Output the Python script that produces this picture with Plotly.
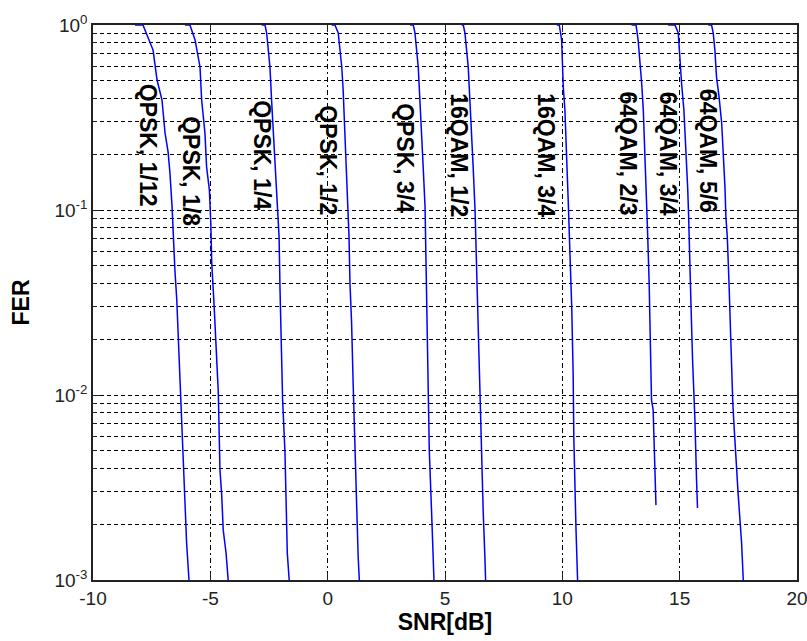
import math
import plotly.graph_objects as go

# ---- data (SNR in dB, FER) ----
snr_qpsk_1_12 = [-8.21, -7.87, -7.44, -7.27, -7.06, -6.93, -6.80, -6.72, -6.63, -6.58, -6.51, -6.43, -6.37, -6.29, -6.22, -6.15, -6.08, -6.01, -5.91]
fer_qpsk_1_12 = [1.0, 1.0, 0.732, 0.504, 0.393, 0.261, 0.206, 0.158, 0.104, 0.0674, 0.0474, 0.0326, 0.0207, 0.0113, 0.00647, 0.00393, 0.0023, 0.00158, 0.001]

snr_qpsk_1_8 = [-6.08, -5.87, -5.65, -5.44, -5.37, -5.23, -5.16, -5.04, -4.98, -4.94, -4.84, -4.76, -4.66, -4.59, -4.52, -4.45, -4.33, -4.24]
fer_qpsk_1_8 = [1.0, 1.0, 0.83, 0.593, 0.393, 0.261, 0.171, 0.128, 0.085, 0.0517, 0.0306, 0.0182, 0.0103, 0.00393, 0.00295, 0.00186, 0.0014, 0.001]

snr_qpsk_1_4 = [-2.81, -2.67, -2.60, -2.46, -2.39, -2.32, -2.25, -2.17, -2.07, -2.03, -1.96, -1.92, -1.82, -1.78, -1.72, -1.64]
fer_qpsk_1_4 = [1.0, 1.0, 0.905, 0.593, 0.393, 0.261, 0.171, 0.113, 0.0715, 0.037, 0.0182, 0.0094, 0.00492, 0.00254, 0.0014, 0.001]

snr_qpsk_1_2 = [0.17, 0.31, 0.45, 0.60, 0.66, 0.73, 0.81, 0.88, 0.91, 0.95, 1.02, 1.09, 1.16, 1.24, 1.30, 1.35]
fer_qpsk_1_2 = [1.0, 1.0, 0.905, 0.593, 0.445, 0.261, 0.171, 0.104, 0.0715, 0.0403, 0.0245, 0.011, 0.00492, 0.00239, 0.00133, 0.001]

snr_qpsk_3_4 = [3.51, 3.65, 3.72, 3.86, 3.93, 4.01, 4.07, 4.15, 4.17, 4.22, 4.29, 4.33, 4.43, 4.50, 4.53]
fer_qpsk_3_4 = [1.0, 1.0, 0.905, 0.593, 0.393, 0.261, 0.171, 0.104, 0.0735, 0.0318, 0.0124, 0.00505, 0.0023, 0.00132, 0.001]

snr_16qam_1_2 = [5.71, 5.78, 5.85, 5.99, 6.06, 6.14, 6.20, 6.28, 6.35, 6.42, 6.49, 6.56, 6.63, 6.70, 6.73]
fer_16qam_1_2 = [1.0, 1.0, 0.905, 0.593, 0.393, 0.261, 0.171, 0.1, 0.0457, 0.0216, 0.00976, 0.00456, 0.0023, 0.00133, 0.001]

snr_16qam_3_4 = [9.76, 9.87, 9.97, 10.04, 10.11, 10.18, 10.25, 10.32, 10.40, 10.46, 10.49, 10.58, 10.65]
fer_16qam_3_4 = [1.0, 1.0, 0.83, 0.462, 0.347, 0.211, 0.113, 0.0608, 0.0299, 0.0132, 0.00586, 0.00193, 0.001]

snr_64qam_2_3 = [12.95, 13.14, 13.23, 13.31, 13.38, 13.45, 13.52, 13.56, 13.62, 13.63, 13.70, 13.76, 13.80, 13.87, 13.95, 13.99]
fer_64qam_2_3 = [1.0, 1.0, 0.83, 0.647, 0.486, 0.347, 0.211, 0.133, 0.0917, 0.078, 0.0403, 0.0191, 0.0094, 0.0083, 0.0037, 0.00254]

snr_64qam_3_4 = [14.51, 14.80, 14.94, 15.01, 15.08, 15.18, 15.27, 15.34, 15.38, 15.41, 15.48, 15.55, 15.63, 15.65, 15.72, 15.76]
fer_64qam_3_4 = [1.0, 1.0, 0.905, 0.647, 0.486, 0.347, 0.211, 0.133, 0.095, 0.0608, 0.0314, 0.0155, 0.0094, 0.00733, 0.00347, 0.00245]

snr_64qam_5_6 = [16.22, 16.36, 16.43, 16.50, 16.57, 16.68, 16.79, 16.86, 16.93, 16.97, 17.03, 17.11, 17.17, 17.24, 17.26, 17.31, 17.40, 17.49, 17.57, 17.64, 17.71]
fer_64qam_5_6 = [1.0, 1.0, 0.905, 0.732, 0.524, 0.408, 0.295, 0.203, 0.133, 0.0917, 0.0715, 0.0379, 0.0206, 0.0116, 0.0094, 0.00706, 0.00429, 0.00295, 0.00211, 0.00158, 0.001]

curve_labels = ["QPSK, 1/12", "QPSK, 1/8", "QPSK, 1/4", "QPSK, 1/2", "QPSK, 3/4",
                "16QAM, 1/2", "16QAM, 3/4", "64QAM, 2/3", "64QAM, 3/4", "64QAM, 5/6"]
curves_snr = [snr_qpsk_1_12, snr_qpsk_1_8, snr_qpsk_1_4, snr_qpsk_1_2, snr_qpsk_3_4,
              snr_16qam_1_2, snr_16qam_3_4, snr_64qam_2_3, snr_64qam_3_4, snr_64qam_5_6]
curves_fer = [fer_qpsk_1_12, fer_qpsk_1_8, fer_qpsk_1_4, fer_qpsk_1_2, fer_qpsk_3_4,
              fer_16qam_1_2, fer_16qam_3_4, fer_64qam_2_3, fer_64qam_3_4, fer_64qam_5_6]

# label anchor points (data coordinates)
label_snr = [-7.68, -5.80, -2.80, 0.01, 3.29, 5.59, 9.30, 12.84, 14.54, 16.22]
label_fer = [0.224, 0.163, 0.198, 0.186, 0.191, 0.198, 0.198, 0.202, 0.202, 0.208]

x_ticks = [-10, -5, 0, 5, 10, 15, 20]
x_ticktext = ["-10", "-5", "0", "5", "10", "15", "20"]
y_ticks = [0.001, 0.01, 0.1, 1]
y_ticktext = ["10<sup>-3</sup>", "10<sup>-2</sup>", "10<sup>-1</sup>", "10<sup>0</sup>"]
y_minor = [m * 10 ** e for e in (-3, -2, -1) for m in range(2, 10)]

FONT = "Liberation Sans, Arial, sans-serif"

fig = go.Figure()
for xs, ys, name in zip(curves_snr, curves_fer, curve_labels):
    fig.add_trace(go.Scatter(x=xs, y=ys, mode="lines", name=name,
                             line=dict(color="#0000FF", width=1.5),
                             showlegend=False, hoverinfo="skip"))

for lx, ly, txt in zip(label_snr, label_fer, curve_labels):
    fig.add_annotation(x=lx, y=math.log10(ly), xref="x", yref="y",
                       text="<b>" + txt + "</b>", textangle=90, showarrow=False,
                       xanchor="center", yanchor="middle",
                       font=dict(family=FONT, size=23, color="black"))

fig.update_layout(
    width=807, height=641,
    margin=dict(l=93, r=10, t=25, b=61, autoexpand=False),
    paper_bgcolor="white", plot_bgcolor="white",
    font=dict(family=FONT, color="black"),
)

fig.update_xaxes(
    range=[-10, 20], tickvals=x_ticks, ticktext=x_ticktext, ticks="inside", ticklen=7, tickwidth=1,
    tickcolor="#222", showline=True, linecolor="#222", linewidth=1.5, mirror="ticks",
    showgrid=True, gridcolor="#000", gridwidth=1, griddash="5px,3px,2px,3px",
    zeroline=False, tickfont=dict(size=19, color="#222"), automargin=False,
    ticklabeloverflow="allow",
    title=dict(text="<b>SNR[dB]</b>", font=dict(size=23, color="black"), standoff=4),
)
fig.update_yaxes(
    type="log", range=[-3, 0], tickvals=y_ticks, ticktext=y_ticktext,
    ticks="inside", ticklen=7, tickwidth=1, tickcolor="#222",
    showline=True, linecolor="#222", linewidth=1.5, mirror="ticks",
    showgrid=True, gridcolor="#000", gridwidth=1, griddash="4px,3px",
    zeroline=False, tickfont=dict(size=19, color="#222"), automargin=False,
    ticklabeloverflow="allow",
    minor=dict(tickvals=y_minor, ticks="inside", ticklen=4, tickcolor="#222",
               showgrid=True, gridcolor="#000", gridwidth=1, griddash="4px,3px"),
    title=dict(text="<b>FER</b>", font=dict(size=23, color="black"), standoff=18),
)

fig.write_html("out.html",
               config={"displayModeBar": False},
               post_script="document.body.style.margin='0px';document.body.style.overflow='hidden';")
